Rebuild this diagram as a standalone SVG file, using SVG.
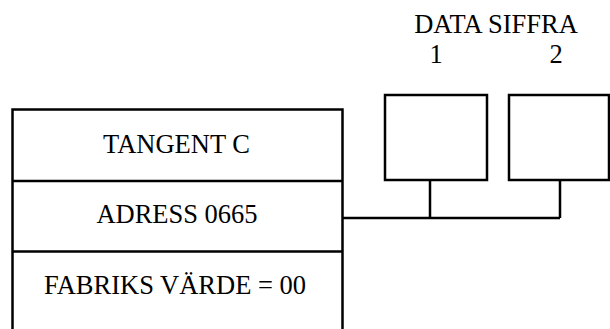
<svg xmlns="http://www.w3.org/2000/svg" width="610" height="329" viewBox="0 0 610 329">
<style>
.ln{fill:none;stroke:#000;stroke-width:2.5}
.t{font-family:"Liberation Serif","Times New Roman",serif;font-size:26.5px;fill:#000;text-anchor:middle}
</style>
<rect width="610" height="329" fill="#fff"/>
<g id="register">
<path class="ln" d="M12.5,330 V109.5 H342.5 V330"/>
<line class="ln" x1="12.5" y1="181" x2="342.5" y2="181"/>
<line class="ln" x1="12.5" y1="251.5" x2="342.5" y2="251.5"/>
<text class="t" x="176.5" y="152.5">TANGENT C</text>
<text class="t" x="177" y="223">ADRESS 0665</text>
<text class="t" x="175" y="294">FABRIKS VÄRDE = 00</text>
</g>
<g id="label">
<text class="t" x="496" y="33">DATA SIFFRA</text>
<text class="t" x="436" y="63">1</text>
<text class="t" x="556" y="63">2</text>
</g>
<g id="digit1">
<rect class="ln" x="385" y="95" width="102" height="85"/>
</g>
<g id="digit2">
<rect class="ln" x="509" y="95" width="100" height="85"/>
</g>
<g id="connectors">
<path class="ln" d="M343,218 H560 M430,180 V218 M560,180 V218"/>
</g>
</svg>
